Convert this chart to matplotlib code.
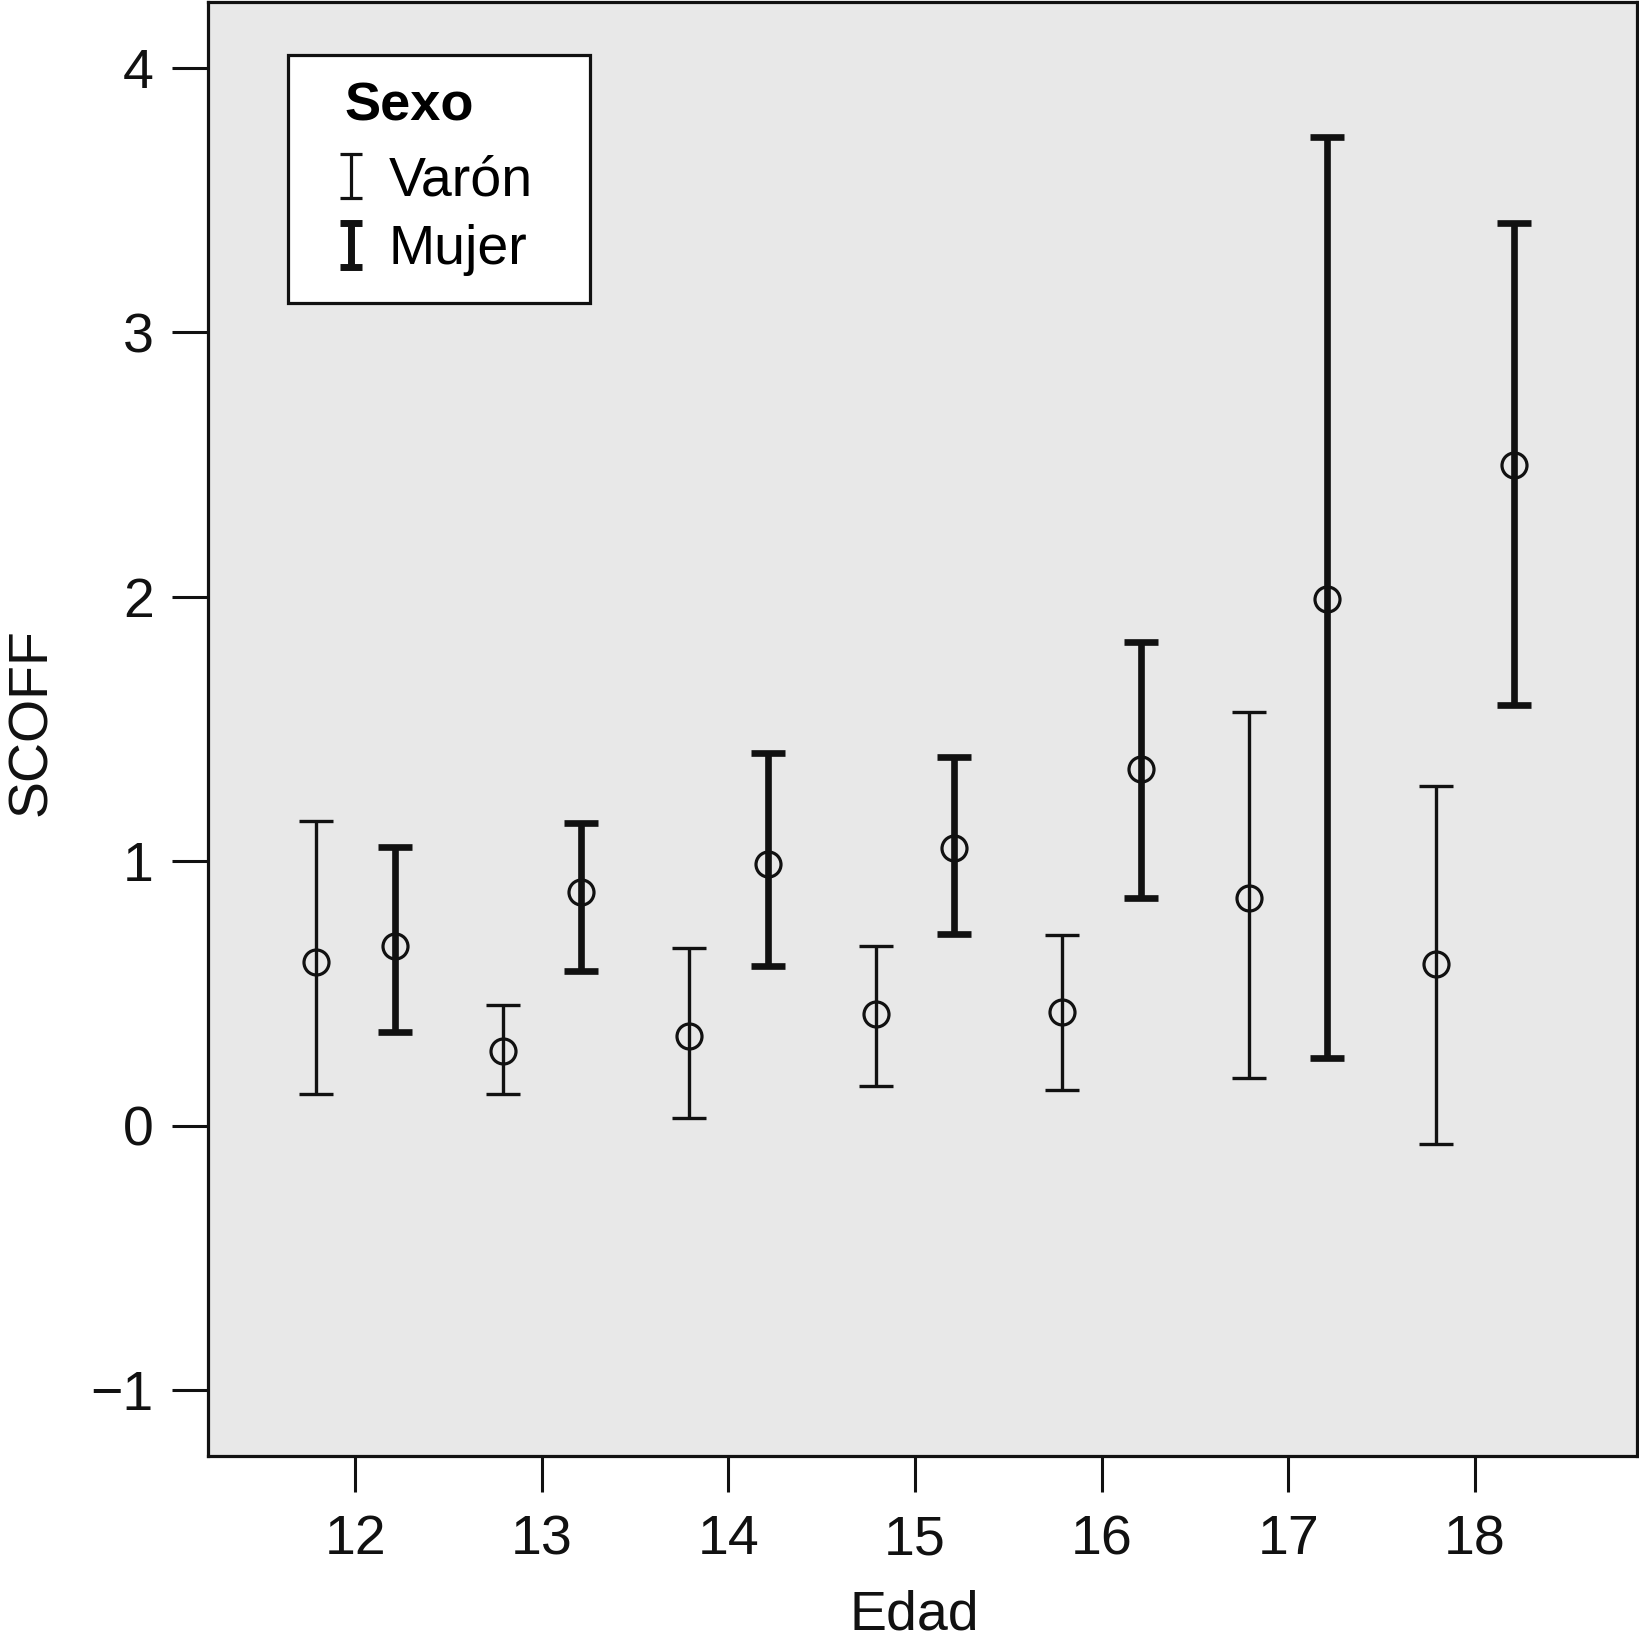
import matplotlib
matplotlib.use('Agg')
import matplotlib.pyplot as plt
import numpy as np
from matplotlib.path import Path
from matplotlib.lines import Line2D
from matplotlib.patches import Rectangle

plt.rcParams['font.family'] = ['Liberation Sans', 'DejaVu Sans']

edad = [12, 13, 14, 15, 16, 17, 18]

# Varón: mean and CI limits
varon_mean = [0.62, 0.28, 0.34, 0.42, 0.43, 0.86, 0.61]
varon_low = [0.12, 0.12, 0.03, 0.15, 0.135, 0.18, -0.07]
varon_high = [1.15, 0.455, 0.67, 0.68, 0.72, 1.565, 1.285]

# Mujer: mean and CI limits
mujer_mean = [0.68, 0.885, 0.99, 1.05, 1.35, 1.99, 2.5]
mujer_low = [0.355, 0.585, 0.605, 0.725, 0.86, 0.255, 1.59]
mujer_high = [1.055, 1.145, 1.41, 1.395, 1.83, 3.74, 3.415]

ink = '#111111'
offset = 0.21

fig = plt.figure(figsize=(16.39, 16.50), dpi=100)
ax = fig.add_axes([0.1269, 0.1176, 0.8719, 0.8812])
ax.set_facecolor('#e8e8e8')

x = np.array(edad, dtype=float)

def draw(xpos, mean, low, high, lw):
    mean = np.array(mean)
    err = [mean - np.array(low), np.array(high) - mean]
    ax.errorbar(xpos, mean, yerr=err, fmt='none', ecolor=ink,
                elinewidth=lw, capsize=12, capthick=lw)
    ax.plot(xpos, mean, 'o', ms=18, mfc='none', mec=ink, mew=2.3, zorder=5)

draw(x - offset, varon_mean, varon_low, varon_high, 2.4)
draw(x + offset, mujer_mean, mujer_low, mujer_high, 4.8)

ax.set_xlim(11.21, 18.87)
ax.set_ylim(-1.25, 4.25)
ax.set_xticks(edad)
ax.set_yticks([-1, 0, 1, 2, 3, 4])

for s in ax.spines.values():
    s.set_linewidth(2.3)
    s.set_color(ink)

ax.tick_params(axis='both', length=26, width=2.2, color=ink, labelsize=40,
               labelcolor=ink)
ax.tick_params(axis='y', pad=13)
ax.tick_params(axis='x', pad=16)

ax.set_xlabel('Edad', fontsize=40, color=ink)
ax.set_ylabel('SCOFF', fontsize=40, color=ink)
ax.yaxis.set_label_coords(-0.105, 0.505)
ax.xaxis.set_label_coords(0.494, -0.092)

# I-beam marker for legend handles
ibeam = Path([(0, -1), (0, 1), (-0.5, 1), (0.5, 1), (-0.5, -1), (0.5, -1)],
             [Path.MOVETO, Path.LINETO, Path.MOVETO, Path.LINETO,
              Path.MOVETO, Path.LINETO])
h_v = Line2D([], [], ls='none', marker=ibeam, ms=32, mec=ink, mew=2.3,
             label='Varón')
h_m = Line2D([], [], ls='none', marker=ibeam, ms=32, mec=ink, mew=5,
             label='Mujer')

# legend frame
ax.add_patch(Rectangle((0.056, 0.793), 0.2113, 0.1705, transform=ax.transAxes,
                       facecolor='white', edgecolor=ink, lw=2.3, zorder=6))

leg = ax.legend(handles=[h_v, h_m], loc='upper left',
                bbox_to_anchor=(0.0882, 0.945), borderaxespad=0,
                fontsize=40, title='Sexo', alignment='left',
                title_fontproperties={'weight': 'bold', 'size': 39},
                handlelength=0.6, handletextpad=0.38, labelspacing=0.3,
                borderpad=0, frameon=False)
leg.set_zorder(7)
leg._legend_box.sep = 17
leg.get_title().set_x(10)

fig.savefig('out.png', dpi=100)
